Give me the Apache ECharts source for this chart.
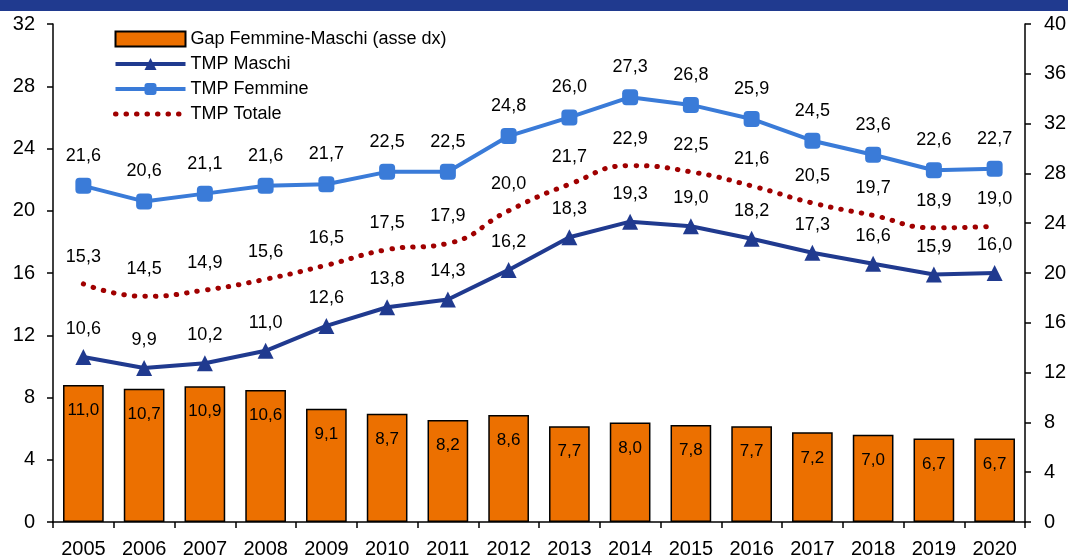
<!DOCTYPE html>
<html>
<head>
<meta charset="utf-8">
<script src="https://cdn.jsdelivr.net/npm/echarts@6/dist/echarts.min.js"></script>
<style>
html,body{margin:0;padding:0;background:#fff;}
#chart{width:1068px;height:555px;}
</style>
</head>
<body>
<div id="chart"></div>
<script>
var anni=['2005','2006','2007','2008','2009','2010','2011','2012','2013','2014','2015','2016','2017','2018','2019','2020'];
var gap=[11.0,10.7,10.9,10.6,9.1,8.7,8.2,8.6,7.7,8.0,7.8,7.7,7.2,7.0,6.7,6.7];
var maschi=[10.6,9.9,10.2,11.0,12.6,13.8,14.3,16.2,18.3,19.3,19.0,18.2,17.3,16.6,15.9,16.0];
var femmine=[21.6,20.6,21.1,21.6,21.7,22.5,22.5,24.8,26.0,27.3,26.8,25.9,24.5,23.6,22.6,22.7];
var totale=[15.3,14.5,14.9,15.6,16.5,17.5,17.9,20.0,21.7,22.9,22.5,21.6,20.5,19.7,18.9,19.0];

var fnt='"Liberation Sans", Arial, sans-serif';
var blu='#203a8f', azzurro='#3a7bd8', rosso='#a00000', arancio='#ec7000';
function virgola(p){//decimali con la virgola
    return p.value.toFixed(1).replace('.',',');
}
var asse={lineStyle:{color:'#000',width:1.5}};

var myChart=echarts.init(document.getElementById('chart'));
var option={
    animation:false,
    textStyle:{fontFamily:fnt},
    graphic:[{
        type:'rect',
        shape:{x:0,y:0,width:1068,height:11},
        style:{fill:blu}
    }],
    legend:{
        orient:'vertical',
        left:108,
        top:25,
        itemWidth:70,
        itemHeight:15,
        itemGap:7,
        textStyle:{fontSize:18,color:'#000',fontFamily:fnt},
        data:[
            {name:'Gap Femmine-Maschi (asse dx)',icon:'rect'},
            {name:'TMP Maschi',lineStyle:{width:4}},
            {name:'TMP Femmine',lineStyle:{width:4}},
            {name:'TMP Totale',itemStyle:{opacity:0},lineStyle:{width:5,type:[0.5,10],cap:'round'}}
        ]
    },
    grid:{left:53,right:43,top:24,bottom:33,outerBoundsMode:'none'},
    xAxis:{
        type:'category',
        data:anni,
        axisLine:asse,
        axisTick:{show:true,length:6,lineStyle:{color:'#000',width:1.5}},
        axisLabel:{fontSize:20,color:'#000',margin:17,fontFamily:fnt}
    },
    yAxis:[{
        type:'value',min:0,max:32,interval:4,
        axisLine:{show:true,lineStyle:{color:'#000',width:1.5}},
        axisTick:{show:true,length:6,lineStyle:{color:'#000',width:1.5}},
        splitLine:{show:false},
        axisLabel:{fontSize:20,color:'#000',margin:18,fontFamily:fnt}
    },{
        type:'value',min:0,max:40,interval:4,position:'right',
        axisLine:{show:true,lineStyle:{color:'#000',width:1.5}},
        axisTick:{show:true,length:6,lineStyle:{color:'#000',width:1.5}},
        splitLine:{show:false},
        axisLabel:{fontSize:20,color:'#000',margin:19,fontFamily:fnt}
    }],
    series:[{
        name:'Gap Femmine-Maschi (asse dx)',
        type:'bar',
        yAxisIndex:1,
        data:gap,
        barWidth:'67%',
        itemStyle:{color:arancio,borderColor:'#000',borderWidth:1.5},
        label:{show:true,position:'insideTop',distance:17,formatter:virgola,fontSize:17,color:'#000',fontFamily:fnt}
    },{
        name:'TMP Maschi',
        type:'line',
        data:maschi,
        symbol:'triangle',
        symbolSize:16,
        lineStyle:{color:blu,width:4},
        itemStyle:{color:blu},
        label:{show:true,position:'top',distance:11,formatter:virgola,fontSize:18,color:'#000',fontFamily:fnt}
    },{
        name:'TMP Femmine',
        type:'line',
        data:femmine,
        symbol:'roundRect',
        symbolSize:16,
        lineStyle:{color:azzurro,width:4},
        itemStyle:{color:azzurro},
        label:{show:true,position:'top',distance:13,formatter:virgola,fontSize:18,color:'#000',fontFamily:fnt}
    },{
        name:'TMP Totale',
        type:'line',
        data:totale,
        smooth:true,
        symbol:'circle',
        symbolSize:0.01,
        lineStyle:{color:rosso,width:5,type:[0.5,10],cap:'round'},
        itemStyle:{color:rosso},
        label:{show:true,position:'top',distance:18,formatter:virgola,fontSize:18,color:'#000',fontFamily:fnt}
    }]
};
myChart.setOption(option);
</script>
</body>
</html>
